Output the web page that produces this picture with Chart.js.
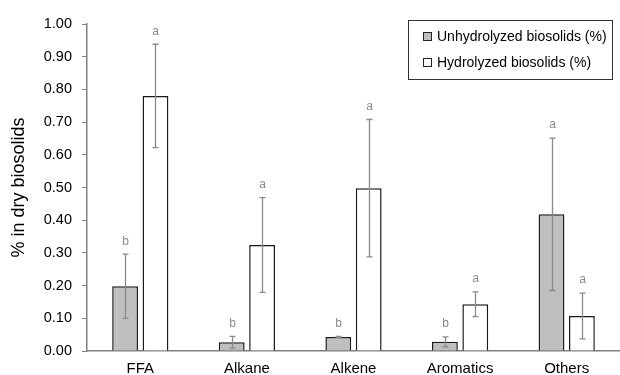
<!DOCTYPE html>
<html>
<head>
<meta charset="utf-8">
<script src="https://cdn.jsdelivr.net/npm/chart.js@4/dist/chart.umd.min.js"></script>
<style>
  html, body { margin: 0; padding: 0; background: #fff; }
  #wrap { width: 620px; height: 375px; position: relative; }
</style>
</head>
<body>
<div id="wrap"><canvas id="c" width="620" height="375"></canvas></div>
<script>
// Compound classes and mean content (% of dry biosolids)
const categories = ['FFA', 'Alkane', 'Alkene', 'Aromatics', 'Others'];
const unhydrolyzed = [0.198, 0.027, 0.043, 0.028, 0.418];
const hydrolyzed = [0.780, 0.324, 0.498, 0.143, 0.107];
// Standard deviations
const unhydrolyzedSd = [0.098, 0.018, 0.002, 0.015, 0.233];
const hydrolyzedSd = [0.158, 0.145, 0.210, 0.038, 0.070];
// Significance letters
const unhydrolyzedLetters = ['b', 'b', 'b', 'b', 'a'];
const hydrolyzedLetters = ['a', 'a', 'a', 'a', 'a'];
const seriesNames = ['Unhydrolyzed biosolids (%)', 'Hydrolyzed biosolids (%)'];
const yTicks = [0, 0.1, 0.2, 0.3, 0.4, 0.5, 0.6, 0.7, 0.8, 0.9, 1.0];

const FONT = '"Liberation Sans", Arial, sans-serif';

// Error bars with significance letters above them
const errorBarPlugin = {
  id: 'errorBars',
  afterDatasetsDraw(chart) {
    const ctx = chart.ctx;
    const y = chart.scales.y;
    ctx.save();
    chart.data.datasets.forEach((ds, di) => {
      const meta = chart.getDatasetMeta(di);
      meta.data.forEach((bar, i) => {
        const v = ds.data[i], sd = ds.sd[i];
        const yTop = y.getPixelForValue(v + sd);
        const yBot = y.getPixelForValue(Math.max(v - sd, 0));
        const x = Math.round(bar.x) + 0.5;
        ctx.strokeStyle = '#8a8a8a';
        ctx.lineWidth = 1.3;
        ctx.beginPath();
        ctx.moveTo(x, yTop); ctx.lineTo(x, yBot);
        ctx.moveTo(x - 3, yTop); ctx.lineTo(x + 3, yTop);
        ctx.moveTo(x - 3, yBot); ctx.lineTo(x + 3, yBot);
        ctx.stroke();
        ctx.fillStyle = '#8a8a8a';
        ctx.font = '12px ' + FONT;
        ctx.textAlign = 'center';
        ctx.textBaseline = 'middle';
        ctx.fillText(ds.letters[i], x, yTop - 13);
      });
    });
    ctx.restore();
  }
};

// Boxed legend in the upper right corner
const boxLegendPlugin = {
  id: 'boxLegend',
  afterDraw(chart) {
    const ctx = chart.ctx;
    const bx = 408, by = 20, bw = 204, bh = 59;
    ctx.save();
    ctx.strokeStyle = '#333';
    ctx.lineWidth = 1;
    ctx.strokeRect(bx + 0.5, by + 0.5, bw, bh);
    chart.data.datasets.forEach((ds, i) => {
      const cy = by + 17 + i * 26;
      ctx.fillStyle = ds.backgroundColor;
      ctx.fillRect(423.5, cy - 4.5, 8, 8);
      ctx.strokeStyle = '#222';
      ctx.strokeRect(423.5, cy - 4.5, 8, 8);
      ctx.fillStyle = '#000';
      ctx.font = '14px ' + FONT;
      ctx.textAlign = 'left';
      ctx.textBaseline = 'middle';
      ctx.fillText(ds.label, 437, cy);
    });
    ctx.restore();
  }
};

new Chart(document.getElementById('c'), {
  type: 'bar',
  data: {
    labels: categories,
    datasets: [
      { label: seriesNames[0], data: unhydrolyzed, sd: unhydrolyzedSd, letters: unhydrolyzedLetters,
        backgroundColor: '#bfbfbf', borderColor: '#1a1a1a', borderWidth: 1.5,
        categoryPercentage: 0.57, barPercentage: 0.85 },
      { label: seriesNames[1], data: hydrolyzed, sd: hydrolyzedSd, letters: hydrolyzedLetters,
        backgroundColor: '#ffffff', borderColor: '#1a1a1a', borderWidth: 1.5,
        categoryPercentage: 0.57, barPercentage: 0.85 }
    ]
  },
  options: {
    responsive: false,
    animation: false,
    layout: { padding: { top: 24, left: 0, right: 0, bottom: 0 } },
    plugins: { legend: { display: false }, tooltip: { enabled: false } },
    scales: {
      x: {
        grid: { display: false, drawTicks: false },
        border: { display: true, color: '#808080', width: 1.5 },
        ticks: { color: '#000', font: { family: FONT, size: 15 }, padding: 9 },
        afterFit(scale) { scale.height = 24; }
      },
      y: {
        min: 0, max: 1,
        afterBuildTicks(scale) { scale.ticks = yTicks.map(v => ({ value: v })); },
        grid: { drawOnChartArea: false, drawTicks: true, tickLength: 5, color: '#808080' },
        border: { display: true, color: '#808080', width: 1.5 },
        ticks: { color: '#000', font: { family: FONT, size: 14.5 }, padding: 10,
                 callback: v => Number(v).toFixed(2) },
        title: { display: true, text: '% in dry biosolids', color: '#000',
                 font: { family: FONT, size: 18 }, padding: { top: 8, bottom: 4 } },
        afterFit(scale) { scale.width = 87; }
      }
    }
  },
  plugins: [errorBarPlugin, boxLegendPlugin]
});
</script>
</body>
</html>
